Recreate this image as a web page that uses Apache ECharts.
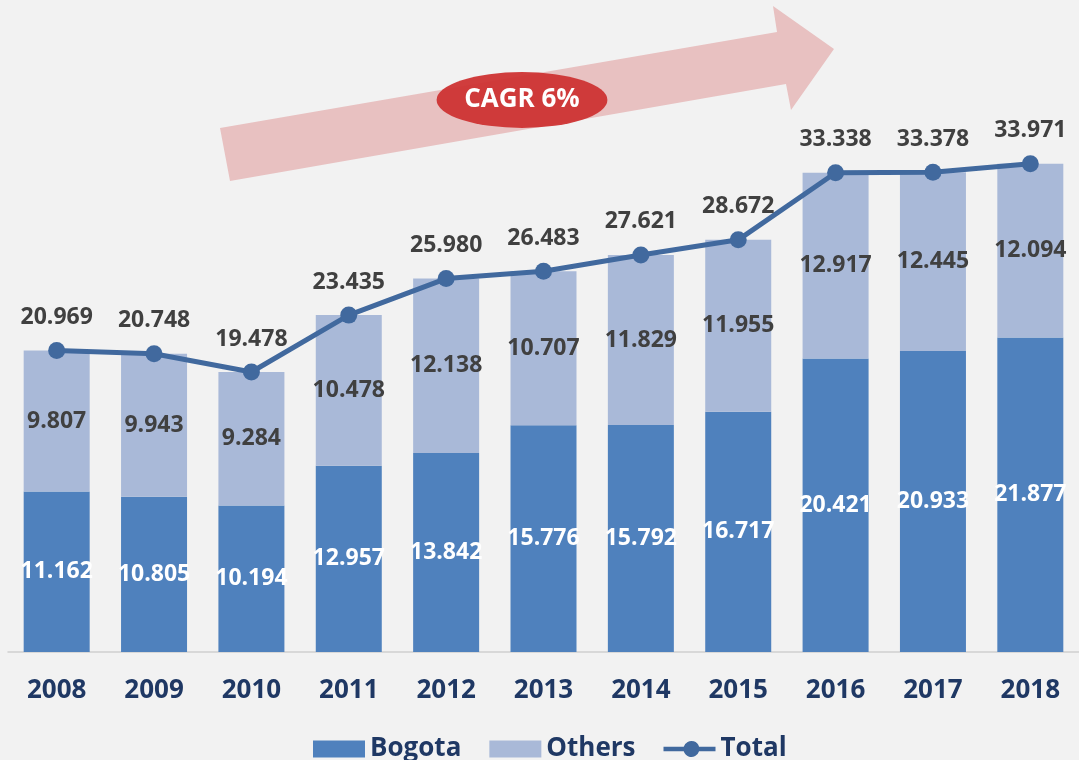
<!DOCTYPE html>
<html>
<head>
<meta charset="utf-8">
<script src="https://cdn.jsdelivr.net/npm/echarts@6/dist/echarts.min.js"></script>
<style>
  html, body { margin: 0; padding: 0; background: #f2f2f2; }
  #chart { width: 1079px; height: 760px; }
</style>
</head>
<body>
<div id="chart"></div>
<script>
const years = ["2008", "2009", "2010", "2011", "2012", "2013", "2014", "2015", "2016", "2017", "2018"];
const bogota = [11.162, 10.805, 10.194, 12.957, 13.842, 15.776, 15.792, 16.717, 20.421, 20.933, 21.877];
const others = [9.807, 9.943, 9.284, 10.478, 12.138, 10.707, 11.829, 11.955, 12.917, 12.445, 12.094];
const total = [20.969, 20.748, 19.478, 23.435, 25.980, 26.483, 27.621, 28.672, 33.338, 33.378, 33.971];

const fmt = (p) => p.value.toFixed(3);
const font = "Open Sans";
// legend icon for the line: thick bar with a dot in the middle (one outline)
const lineIcon = "path://M0,6H21.38A8.5,8.5 0 0,1 37.62,6H55V11H37.62A8.5,8.5 0 0,1 21.38,11H0Z";

const chart = echarts.init(document.getElementById("chart"), null, { renderer: "canvas" });

const option = {
  backgroundColor: "#f2f2f2",
  animation: false,
  textStyle: { fontFamily: font },
  grid: { left: 8, right: -8, top: 77, bottom: 108, containLabel: false },
  legend: {
    bottom: -7,
    left: 308,
    itemWidth: 52,
    itemHeight: 17,
    itemGap: 28,
    textStyle: { fontSize: 26, fontWeight: "bold", color: "#1f3864", fontFamily: font },
    data: [
      { name: "Bogota", icon: "rect" },
      { name: "Others", icon: "rect" },
      { name: "Total", icon: lineIcon }
    ]
  },
  xAxis: {
    type: "category",
    data: years,
    axisLine: { lineStyle: { color: "#d0d0d0", width: 1.5 } },
    axisTick: { show: false },
    axisLabel: { fontSize: 26, fontWeight: "bold", color: "#1f3864", margin: 26, fontFamily: font }
  },
  yAxis: {
    type: "value",
    min: 0,
    max: 40,
    show: false,
    splitLine: { show: false }
  },
  graphic: [
    {
      type: "polygon",
      z: 1,
      shape: { points: [[220, 128], [777, 32], [773, 6], [834, 49], [791, 110], [786, 84], [230, 181]] },
      style: { fill: "#e8c1c1" }
    },
    {
      type: "circle",
      z: 2,
      x: 522, y: 100,
      scaleX: 3.05,
      shape: { cx: 0, cy: 0, r: 28 },
      style: { fill: "#cd3333", opacity: 0.95 }
    },
    {
      type: "text",
      z: 3,
      x: 522, y: 100,
      style: {
        text: "CAGR 6%",
        fill: "#ffffff",
        font: "bold 26px 'Open Sans'",
        textAlign: "center",
        textVerticalAlign: "middle"
      }
    }
  ],
  series: [
    {
      name: "Bogota",
      type: "bar",
      stack: "s",
      barWidth: 66,
      data: bogota,
      itemStyle: { color: "#4f81bd" },
      label: { show: true, position: "inside", formatter: fmt, color: "#ffffff", fontSize: 23, fontWeight: "bold", fontFamily: font }
    },
    {
      name: "Others",
      type: "bar",
      stack: "s",
      barWidth: 66,
      data: others,
      itemStyle: { color: "#a9b9d8" },
      label: { show: true, position: "inside", formatter: fmt, color: "#404040", fontSize: 23, fontWeight: "bold", fontFamily: font }
    },
    {
      name: "Total",
      type: "line",
      data: total,
      z: 5,
      symbol: "circle",
      symbolSize: 17,
      lineStyle: { color: "#41699e", width: 5 },
      itemStyle: { color: "#41699e" },
      label: { show: true, position: "top", distance: 13, formatter: fmt, color: "#404040", fontSize: 23, fontWeight: "bold", fontFamily: font }
    }
  ]
};

chart.setOption(option);
</script>
</body>
</html>
